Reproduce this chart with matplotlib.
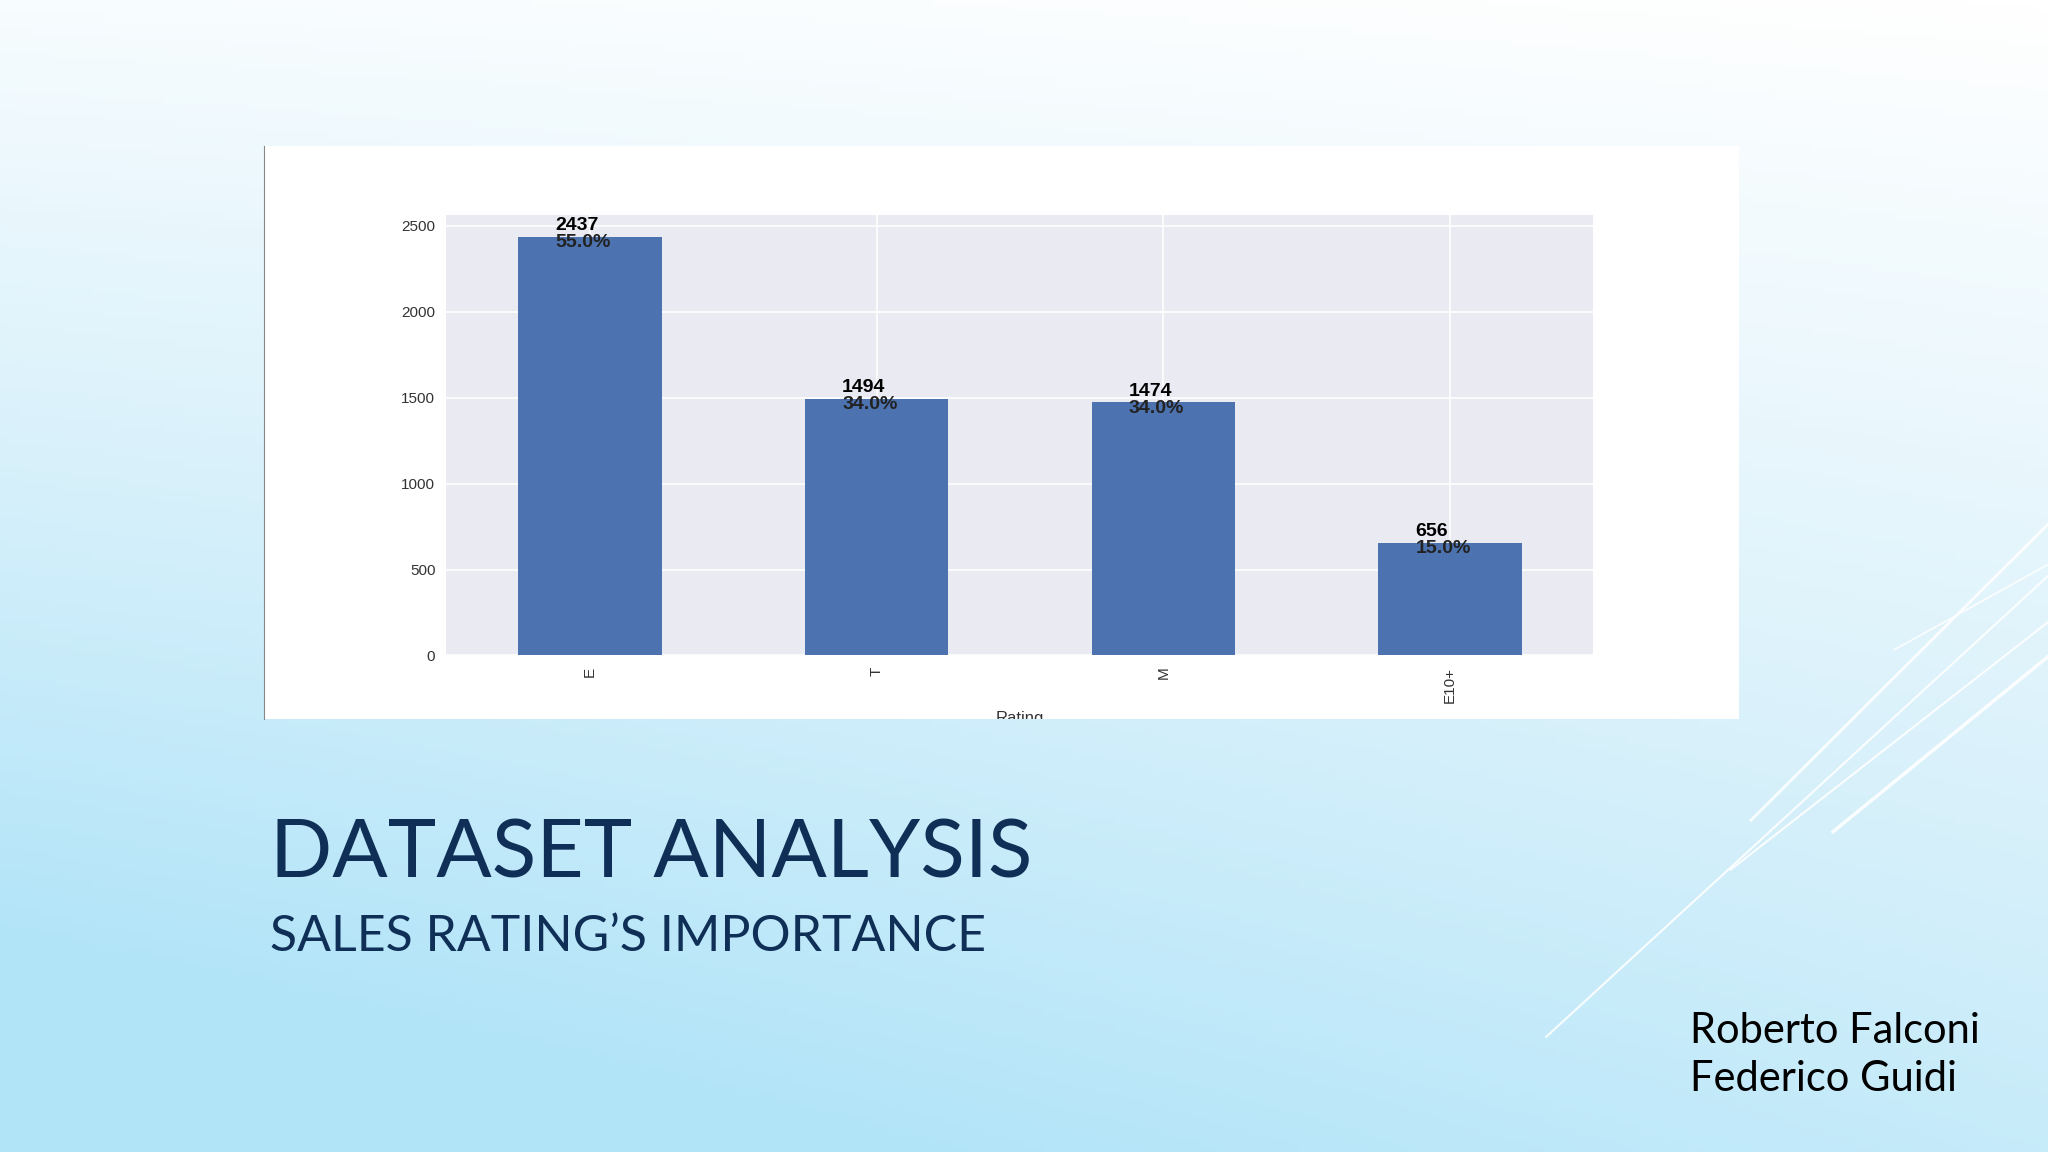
import numpy as np
import matplotlib.pyplot as plt
from matplotlib.patches import Rectangle
from matplotlib.colors import LinearSegmentedColormap

categories = ["E", "T", "M", "E10+"]
counts = [2437, 1494, 1474, 656]
percents = ["55.0%", "34.0%", "34.0%", "15.0%"]
yticks = [0, 500, 1000, 1500, 2000, 2500]

plt.rcParams['font.family'] = ['Liberation Sans', 'DejaVu Sans']
fig = plt.figure(figsize=(20.48, 11.52), dpi=100)

# background gradient
bg = fig.add_axes([0, 0, 1, 1], zorder=-10)
bg.set_axis_off()
yy, xx = np.mgrid[0:1:200j, 0:1:200j]
t = np.clip(0.75 * yy + 0.35 * (1 - xx) * (0.3 + yy), 0, 1)
cmap = LinearSegmentedColormap.from_list("bgc", ["#ffffff", "#d9f1fb", "#aee3f8"])
bg.imshow(t, cmap=cmap, origin="upper", extent=[0, 1, 0, 1], aspect="auto", vmin=0, vmax=1.05)
bg.set_xlim(0, 1); bg.set_ylim(0, 1)
for (x0, y0, x1, y1, lw) in [(0.755, 0.10, 1.0, 0.50, 1.5), (0.855, 0.288, 1.0, 0.545, 2.0),
                             (0.845, 0.245, 1.0, 0.46, 1.5), (0.895, 0.278, 1.0, 0.43, 2.5),
                             (0.925, 0.436, 1.0, 0.51, 1.2)]:
    bg.plot([x0, x1], [y0, y1], color="white", lw=lw, alpha=0.9)

# white panel
panel = Rectangle((0.129, 0.376), 0.720, 0.497, transform=fig.transFigure,
                  facecolor="white", edgecolor="none", zorder=5)
bg.add_patch(panel)
bg.plot([0.129, 0.129], [0.376, 0.873], color="#888888", lw=0.8, zorder=6)

ax = fig.add_axes([0.218, 0.431, 0.560, 0.382], zorder=1)
ax.set_facecolor("#eaeaf2")
for s in ax.spines.values():
    s.set_visible(False)
ax.grid(True, color="white", lw=1.2)
ax.set_axisbelow(True)
x = np.arange(len(categories))
ax.bar(x, counts, width=0.5, color="#4c72b0")
ax.set_xlim(-0.5, 3.5)
ax.set_ylim(0, 2560)
ax.set_yticks(yticks)
ax.set_xticks(x)
ax.set_xticklabels(categories, rotation=90, fontsize=11, color="#333333")
ax.tick_params(axis="y", labelsize=11, colors="#333333", length=0, pad=8)
ax.tick_params(axis="x", length=0, pad=8)
for xi, c, p in zip(x, counts, percents):
    ax.text(xi - 0.12, c + 15, str(c), fontsize=14, fontweight="bold", va="bottom", ha="left")
    ax.text(xi - 0.12, c + 15, p, fontsize=14, fontweight="bold", va="top", ha="left", color="#222222")
xl = ax.set_xlabel("Rating", fontsize=12, color="#333333", labelpad=6)
xl.set_clip_path(panel)

txtc = "#0f2f57"
fig.text(0.132, 0.258, "DATASET ANALYSIS", fontsize=59, color=txtc, family="Lato", va="center")
fig.text(0.132, 0.187, "SALES RATING’S IMPORTANCE", fontsize=36, color=txtc, family="Lato", va="center")
fig.text(0.825, 0.105, "Roberto Falconi", fontsize=30, color="black", family="Lato", va="center")
fig.text(0.825, 0.063, "Federico Guidi", fontsize=30, color="black", family="Lato", va="center")

fig.savefig("out.png", dpi=100)
